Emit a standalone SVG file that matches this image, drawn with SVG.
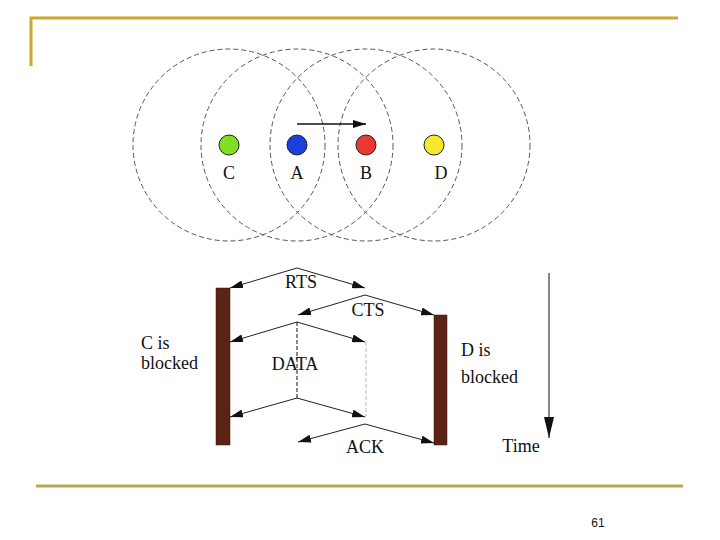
<svg xmlns="http://www.w3.org/2000/svg" width="720" height="540" viewBox="0 0 720 540">
<style>
.range{fill:none;stroke:#555;stroke-width:1;stroke-dasharray:5 3}
.node{stroke:#222;stroke-width:1}
.lbl{font-family:"Liberation Serif","Times New Roman",serif;font-size:18px;fill:#111}
.msg{fill:none;stroke:#222;stroke-width:1}
.bar{fill:#5a2313;stroke:#3a150a;stroke-width:0.5}
</style>
<defs>
<marker id="ah" markerUnits="userSpaceOnUse" markerWidth="14" markerHeight="8" refX="13" refY="4" orient="auto">
<path d="M0,0 L13,4 L0,8 Z" fill="#111"/>
</marker>
<marker id="ahT" markerUnits="userSpaceOnUse" markerWidth="22" markerHeight="12" refX="21" refY="5" orient="auto">
<path d="M0,0 L21,5 L0,10 Z" fill="#111"/>
</marker>
</defs>
<rect width="720" height="540" fill="#fff"/>
<g id="frame">
<path d="M31,66 V18 H678" fill="none" stroke="#cba92c" stroke-width="3"/>
<line x1="36" y1="486" x2="683" y2="486" stroke="#b5a858" stroke-width="3"/>
<text x="598" y="527" font-family="Liberation Sans, Arial, sans-serif" font-size="12" fill="#111" text-anchor="middle">61</text>
</g>
<g id="ranges">
<circle class="range" cx="229" cy="145" r="96"/>
<circle class="range" cx="297" cy="145" r="96"/>
<circle class="range" cx="366" cy="145" r="96"/>
<circle class="range" cx="434" cy="145" r="96"/>
</g>
<g id="node-C"><circle class="node" cx="229" cy="145" r="10" fill="#7fe020"/><text class="lbl" x="229" y="179" text-anchor="middle">C</text></g>
<g id="node-A"><circle class="node" cx="297" cy="145" r="10" fill="#1b3fd8"/><text class="lbl" x="297" y="179" text-anchor="middle">A</text></g>
<g id="node-B"><circle class="node" cx="366" cy="145" r="10" fill="#e83a30"/><text class="lbl" x="366" y="179" text-anchor="middle">B</text></g>
<g id="node-D"><circle class="node" cx="434" cy="145" r="10" fill="#f6e82c"/><text class="lbl" x="441" y="179" text-anchor="middle">D</text></g>
<g id="bar-C"><rect class="bar" x="216" y="288" width="14" height="157"/>
<text class="lbl" x="141" y="349">C is</text><text class="lbl" x="141" y="369">blocked</text></g>
<g id="bar-D"><rect class="bar" x="434" y="315" width="13" height="130"/>
<text class="lbl" x="461" y="356">D is</text><text class="lbl" x="461" y="383">blocked</text></g>
<g id="connectors">
<line x1="297" y1="124" x2="366" y2="124" stroke="#111" stroke-width="1.5" marker-end="url(#ah)"/>
<polyline class="msg" points="297,268 230,288" marker-end="url(#ah)"/>
<polyline class="msg" points="297,268 365,288" marker-end="url(#ah)"/>
<polyline class="msg" points="365,295 298,315" marker-end="url(#ah)"/>
<polyline class="msg" points="365,295 434,315" marker-end="url(#ah)"/>
<polyline class="msg" points="297,322 230,342" marker-end="url(#ah)"/>
<polyline class="msg" points="297,322 365,342" marker-end="url(#ah)"/>
<line x1="297" y1="322" x2="297" y2="398" stroke="#111" stroke-width="1" stroke-dasharray="4 2"/>
<line x1="366" y1="342" x2="366" y2="417" stroke="#bbb" stroke-width="1" stroke-dasharray="4 2"/>
<polyline class="msg" points="297,398 230,417" marker-end="url(#ah)"/>
<polyline class="msg" points="297,398 365,417" marker-end="url(#ah)"/>
<polyline class="msg" points="365,424 298,442" marker-end="url(#ah)"/>
<polyline class="msg" points="365,424 434,443" marker-end="url(#ah)"/>
<line x1="549" y1="273" x2="549" y2="438" stroke="#111" stroke-width="1" marker-end="url(#ahT)"/>
</g>
<g id="labels">
<text class="lbl" x="301" y="288" text-anchor="middle">RTS</text>
<text class="lbl" x="368" y="316" text-anchor="middle">CTS</text>
<text class="lbl" x="295" y="370" text-anchor="middle">DATA</text>
<text class="lbl" x="365" y="453" text-anchor="middle">ACK</text>
<text class="lbl" x="521" y="452" text-anchor="middle">Time</text>
</g>
</svg>
